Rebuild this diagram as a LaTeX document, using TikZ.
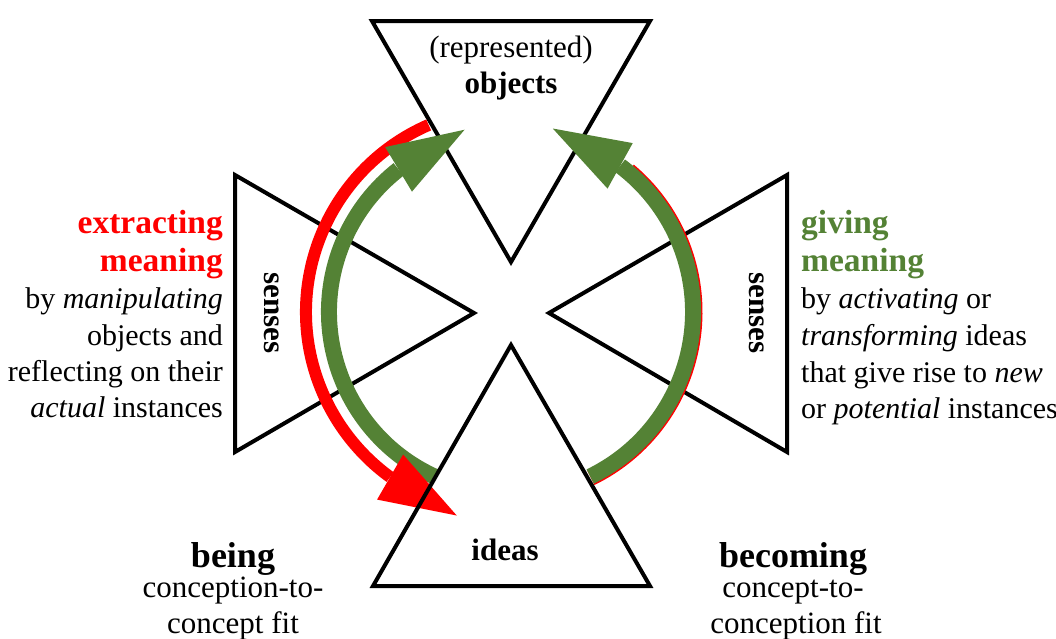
\documentclass[tikz,border=0pt]{standalone}
\usepackage{fontspec}
\setmainfont{Liberation Serif}
\usetikzlibrary{calc}
\definecolor{meangreen}{RGB}{84,130,53}
\definecolor{meanred}{RGB}{255,0,0}

\begin{document}
\begin{tikzpicture}[x=1pt,y=-1pt,
  tri/.style={draw=black,line width=4pt,line join=miter},
  redband/.style={draw=meanred,line width=12pt},
  greenband/.style={draw=meangreen,line width=16pt},
  body/.style={inner sep=0pt,font=\fontsize{30}{36}\selectfont},
  head/.style={inner sep=0pt,font=\fontsize{33.5}{40}\selectfont\bfseries},
  mode/.style={inner sep=0pt,font=\fontsize{36}{42}\selectfont\bfseries},
  sub/.style={inner sep=0pt,font=\fontsize{31}{36}\selectfont},
  lab/.style={inner sep=0pt,font=\fontsize{31}{36}\selectfont},
  blab/.style={inner sep=0pt,font=\fontsize{31}{36}\selectfont\bfseries},
]
\useasboundingbox (0,0) rectangle (1056,638);

% centre of the meaning cycle
\coordinate (c) at (510,312);
% where each band ends and its arrowhead begins
\coordinate (redEnd) at ($(c)+(126:204)$);
\coordinate (glEnd) at ($(c)+(232:181)$);
\coordinate (grEnd) at ($(c)+(-53:183)$);

% objects (top) and the two senses triangles
\draw[tri] (372,21) -- (650,21) -- (511,262) -- cycle;
\draw[tri] (235,175) -- (474,313) -- (235,452) -- cycle;
\draw[tri] (787,175) -- (549,313) -- (787,452) -- cycle;

% extracting meaning: objects -> ideas (band)
\draw[redband] ($(c)+(246.5:204)$) arc[start angle=246.5,end angle=126,radius=204];

% giving meaning: ideas -> objects, left and right loops
\draw[meanred,line width=16pt] ($(c)+(64:184.5)$) arc[start angle=64,end angle=-50,radius=184.5];
\draw[greenband] ($(c)+(114:181)$) arc[start angle=114,end angle=232,radius=181];
\fill[meangreen] ($(glEnd)+(329:77)$) -- ($(glEnd)+(59:26)$) -- ($(glEnd)+(239:26)$) -- cycle;
\draw[greenband] ($(c)+(64:183)$) arc[start angle=64,end angle=-53,radius=183];
\fill[meangreen] ($(grEnd)+(209:77)$) -- ($(grEnd)+(119:26)$) -- ($(grEnd)+(299:26)$) -- cycle;

% extracting meaning arrowhead
\fill[meanred] ($(redEnd)+(30:77)$) -- ($(redEnd)+(120:26)$) -- ($(redEnd)+(300:26)$) -- cycle;

% ideas (bottom)
\draw[tri] (373,586) -- (650,586) -- (511,345) -- cycle;

% triangle labels
\node[lab,anchor=base] (rep) at (511,57) {(represented)};
\node[blab,anchor=base] (obj) at (511,93) {objects};
\node[blab,anchor=base] (ideas) at (505,560) {ideas};
\node[blab,rotate=-90] (sensl) at (272,313) {senses};
\node[blab,rotate=-90] (sensr) at (757,313) {senses};

% left description
\node[head,text=meanred,anchor=base east] (ex1) at (223,233) {extracting};
\node[head,text=meanred,anchor=base east] (ex2) at (223,271) {meaning};
\node[body,anchor=base east] (ex3) at (223,308) {by \textit{manipulating}};
\node[body,anchor=base east] (ex4) at (223,345) {objects and};
\node[body,anchor=base east] (ex5) at (223,381) {reflecting on their};
\node[body,anchor=base east] (ex6) at (223,417) {\textit{actual} instances};

% right description
\node[head,text=meangreen,anchor=base west] (gv1) at (801,233) {giving};
\node[head,text=meangreen,anchor=base west] (gv2) at (801,271) {meaning};
\node[body,anchor=base west] (gv3) at (801,308) {by \textit{activating} or};
\node[body,anchor=base west] (gv4) at (801,345) {\textit{transforming} ideas};
\node[body,anchor=base west] (gv5) at (801,382) {that give rise to \textit{new}};
\node[body,anchor=base west] (gv6) at (801,418) {or \textit{potential} instances};

% being / becoming
\node[mode,anchor=base] (being) at (233,567) {being};
\node[sub,anchor=base] (being2) at (233,597) {conception-to-};
\node[sub,anchor=base] (being3) at (233,633) {concept fit};
\node[mode,anchor=base] (becoming) at (793,567) {becoming};
\node[sub,anchor=base] (becoming2) at (793,597) {concept-to-};
\node[sub,anchor=base] (becoming3) at (796,633) {conception fit};
\end{tikzpicture}
\end{document}
